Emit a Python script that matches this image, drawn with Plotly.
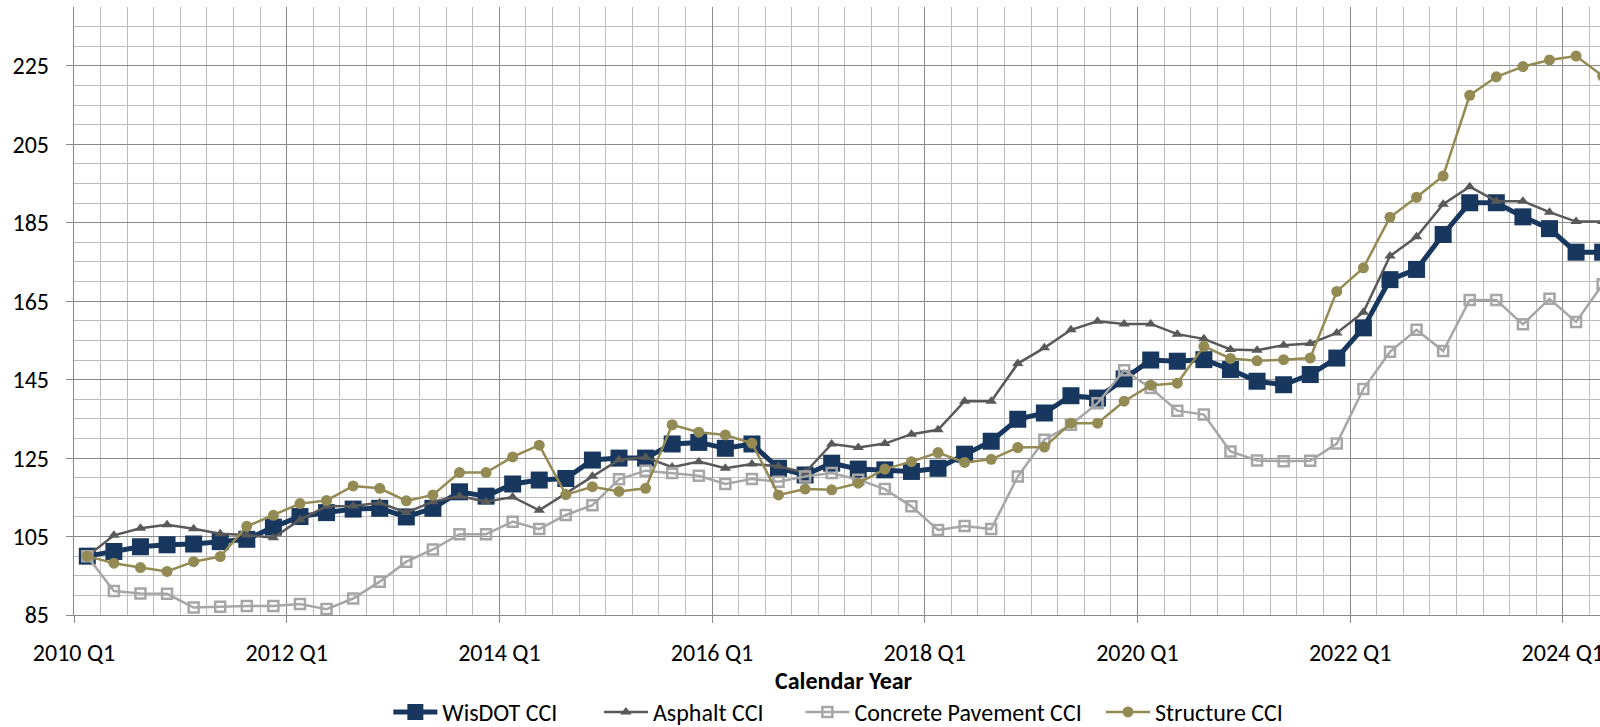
import plotly.graph_objects as go

# ---------------- data ----------------
quarters = [f"{2010 + i // 4} Q{i % 4 + 1}" for i in range(58)]

wisdot = [100, 101.2, 102.4, 102.9, 103.1, 103.7, 104.3, 107.4, 110.1, 111.1,
          112.0, 112.2, 110.0, 112.2, 116.4, 115.3, 118.4, 119.4, 119.8, 124.5,
          125.0, 125.0, 128.6, 129.0, 127.5, 128.6, 122.4, 120.7, 123.7, 122.2,
          122.0, 121.6, 122.4, 126.0, 129.3, 134.9, 136.5, 140.9, 140.3, 145.2,
          150.0, 149.7, 150.1, 147.6, 144.6, 143.7, 146.3, 150.5, 158.2, 170.5,
          173.1, 182.0, 190.1, 190.1, 186.5, 183.5, 177.5, 177.5]

asphalt = [100, 105.3, 107.1, 108.0, 107.0, 105.7, 105.4, 104.7, 109.3, 112.7,
           112.8, 113.6, 111.1, 113.9, 115.3, 113.9, 115.1, 111.7, 116.0, 120.4,
           124.6, 125.2, 122.7, 124.1, 122.4, 123.5, 122.9, 121.3, 128.6, 127.7,
           128.7, 131.1, 132.2, 139.5, 139.5, 149.1, 153.1, 157.7, 159.9, 159.2,
           159.2, 156.6, 155.4, 152.7, 152.5, 153.8, 154.2, 156.9, 162.2, 176.5,
           181.4, 189.7, 194.2, 190.5, 190.5, 187.7, 185.3, 185.3]

concrete = [100, 91.1, 90.5, 90.4, 86.9, 87.1, 87.3, 87.3, 87.8, 86.5,
            89.2, 93.5, 98.6, 101.7, 105.6, 105.6, 108.8, 106.9, 110.5, 113.0,
            119.6, 121.8, 121.2, 120.5, 118.4, 119.7, 119.0, 120.3, 121.2, 119.5,
            117.1, 112.7, 106.7, 107.7, 106.9, 120.3, 129.7, 133.5, 139.0, 147.4,
            142.9, 137.1, 136.1, 126.7, 124.4, 124.2, 124.3, 128.7, 142.6, 152.1,
            157.7, 152.3, 165.3, 165.3, 159.1, 165.6, 159.7, 169.3]

structure = [100, 98.2, 97.1, 96.1, 98.6, 99.9, 107.6, 110.4, 113.4, 114.2,
             117.9, 117.3, 114.1, 115.6, 121.3, 121.3, 125.3, 128.3, 115.7, 117.7,
             116.5, 117.3, 133.5, 131.6, 130.9, 128.8, 115.6, 117.1, 116.9, 118.6,
             122.2, 124.1, 126.4, 123.9, 124.7, 127.7, 127.8, 133.9, 133.9, 139.5,
             143.6, 144.1, 153.5, 150.4, 149.8, 150.1, 150.5, 167.5, 173.5, 186.4,
             191.5, 196.9, 217.5, 222.2, 224.8, 226.5, 227.5, 222.4]

series_names = ["WisDOT CCI", "Asphalt CCI", "Concrete Pavement CCI", "Structure CCI"]

# category centres sit between the quarter boundaries
xpos = [i + 0.5 for i in range(len(quarters))]
label_every = 8
tickvals = list(range(0, len(quarters), label_every))
ticktext = [quarters[i] for i in tickvals]

FONT = "Carlito, Lato, 'Open Sans', sans-serif"
FS = 24
MAJOR = "#8a8a8a"
MINOR = "#bcbcbc"

# legend entry left edges (fraction of plot width), one legend per series
legend_x = [0.206, 0.344, 0.476, 0.673]

fig = go.Figure()
styles = [
    dict(data=wisdot, color="#17375E", lw=5, sym="square", size=17, mlw=0),
    dict(data=asphalt, color="#595959", lw=2.5, sym="triangle-up", size=10, mlw=0),
    dict(data=concrete, color="#A6A6A6", lw=2.5, sym="square-open", size=10, mlw=2.5),
    dict(data=structure, color="#948A54", lw=2.5, sym="circle", size=11, mlw=0),
]
legend_ids = ["legend", "legend2", "legend3", "legend4"]
for name, st, lid in zip(series_names, styles, legend_ids):
    fig.add_trace(go.Scatter(
        x=xpos, y=st["data"], name=name, mode="lines+markers", legend=lid,
        line=dict(color=st["color"], width=st["lw"]),
        marker=dict(symbol=st["sym"], size=st["size"], color=st["color"],
                    line=dict(color=st["color"], width=st["mlw"])),
    ))

legend_layout = {}
for lid, lx in zip(legend_ids, legend_x):
    legend_layout[lid] = dict(orientation="h", x=lx, xanchor="left", y=-0.16,
                              yanchor="middle", font=dict(family=FONT, size=FS),
                              itemwidth=44, bgcolor="rgba(0,0,0,0)")

fig.update_layout(
    width=1600, height=727,
    margin=dict(l=74, r=0, t=7, b=112, autoexpand=False),
    paper_bgcolor="white", plot_bgcolor="white",
    font=dict(family=FONT, size=FS, color="#000000"),
    showlegend=True,
    **legend_layout,
    xaxis=dict(
        range=[0, 57.4], tickmode="array", tickvals=tickvals, ticktext=ticktext,
        automargin=False, ticklabeloverflow="allow",
        showgrid=True, gridcolor=MAJOR, gridwidth=1.4,
        minor=dict(tickmode="linear", tick0=0, dtick=1, showgrid=True,
                   gridcolor=MINOR, gridwidth=1.4, ticks=""),
        showline=True, linecolor=MAJOR, linewidth=1.4,
        ticks="outside", ticklen=7, tickcolor=MAJOR, ticklabelstandoff=9,
        tickfont=dict(family=FONT, size=FS), zeroline=False,
    ),
    yaxis=dict(
        range=[85, 240], tickmode="linear", tick0=85, dtick=20,
        automargin=False, ticklabeloverflow="allow",
        showgrid=True, gridcolor=MAJOR, gridwidth=1.4,
        minor=dict(tickmode="linear", tick0=85, dtick=5, showgrid=True,
                   gridcolor=MINOR, gridwidth=1.4, ticks=""),
        showline=True, linecolor=MAJOR, linewidth=1.4,
        ticks="outside", ticklen=7, tickcolor=MAJOR, ticklabelstandoff=12,
        tickfont=dict(family=FONT, size=FS), zeroline=False,
    ),
    annotations=[dict(text="<b>Calendar Year</b>", xref="paper", yref="paper",
                      x=0.5046, y=-0.107, xanchor="center", yanchor="middle",
                      showarrow=False, font=dict(family=FONT, size=FS))],
)

fig.write_html("out.html", config={"displayModeBar": False},
               post_script="document.body.style.margin='0';document.body.style.overflow='hidden';")
